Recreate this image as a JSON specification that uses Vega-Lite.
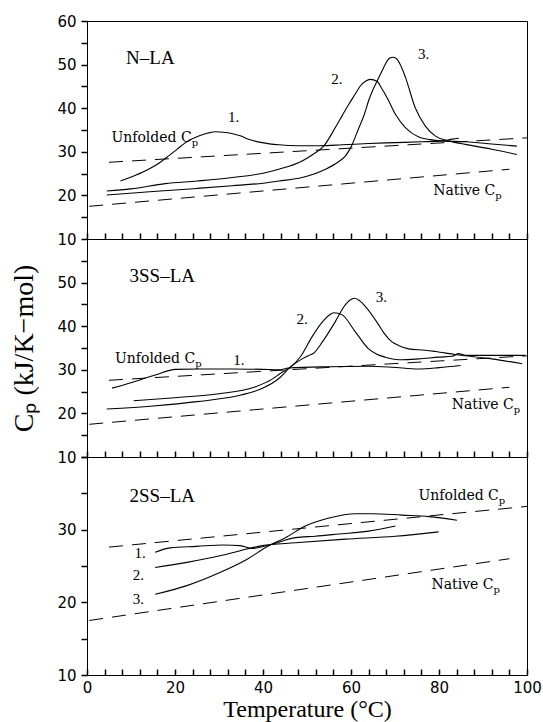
{
  "$schema": "https://vega.github.io/schema/vega-lite/v6.json",
  "background": "white",
  "padding": {"left": 10, "top": 13, "right": 5, "bottom": 0},
  "spacing": 0,
  "bounds": "flush",
  "config": {
    "view": {"stroke": "black", "strokeWidth": 1},
    "axis": {"grid": false, "ticks": true, "domainColor": "#000000", "tickColor": "#000000", "tickOpacity": 1, "tickWidth": 1.5, "labelColor": "#000000", "titleColor": "#000000", "labelFont": "DejaVu Sans", "labelFontSize": 15, "titleFont": "Liberation Serif", "titleFontWeight": "normal"}
  },
  "datasets": {
    "base": [
      {"kind": "unfolded", "x": 5, "y": 27.6},
      {"kind": "unfolded", "x": 100, "y": 33.2},
      {"kind": "native", "x": 0.5, "y": 17.5},
      {"kind": "native", "x": 96, "y": 26.0}
    ],
    "curves": [
      {"panel": "N", "series": "1", "x": 7.6, "y": 23.3},
      {"panel": "N", "series": "1", "x": 11, "y": 24.6},
      {"panel": "N", "series": "1", "x": 14, "y": 26.0},
      {"panel": "N", "series": "1", "x": 16.5, "y": 27.5},
      {"panel": "N", "series": "1", "x": 18.5, "y": 29.0},
      {"panel": "N", "series": "1", "x": 20.5, "y": 30.6},
      {"panel": "N", "series": "1", "x": 22.4, "y": 32.1},
      {"panel": "N", "series": "1", "x": 25.4, "y": 33.6},
      {"panel": "N", "series": "1", "x": 27.5, "y": 34.3},
      {"panel": "N", "series": "1", "x": 29.2, "y": 34.6},
      {"panel": "N", "series": "1", "x": 31, "y": 34.5},
      {"panel": "N", "series": "1", "x": 32.9, "y": 34.2},
      {"panel": "N", "series": "1", "x": 35, "y": 33.6},
      {"panel": "N", "series": "1", "x": 36.7, "y": 32.9},
      {"panel": "N", "series": "1", "x": 39.8, "y": 32.1},
      {"panel": "N", "series": "1", "x": 43.6, "y": 31.6},
      {"panel": "N", "series": "1", "x": 48, "y": 31.4},
      {"panel": "N", "series": "1", "x": 53, "y": 31.4},
      {"panel": "N", "series": "1", "x": 58, "y": 31.6},
      {"panel": "N", "series": "1", "x": 64, "y": 31.9},
      {"panel": "N", "series": "1", "x": 70, "y": 32.1},
      {"panel": "N", "series": "1", "x": 76, "y": 32.3},
      {"panel": "N", "series": "1", "x": 80.7, "y": 32.5},
      {"panel": "N", "series": "1", "x": 83, "y": 32.9},
      {"panel": "N", "series": "1", "x": 84.5, "y": 33.1},
      {"panel": "N", "series": "2", "x": 4.5, "y": 21.0},
      {"panel": "N", "series": "2", "x": 10, "y": 21.5},
      {"panel": "N", "series": "2", "x": 17.8, "y": 22.7},
      {"panel": "N", "series": "2", "x": 25, "y": 23.3},
      {"panel": "N", "series": "2", "x": 33, "y": 24.1},
      {"panel": "N", "series": "2", "x": 40, "y": 25.1},
      {"panel": "N", "series": "2", "x": 43.6, "y": 26.0},
      {"panel": "N", "series": "2", "x": 48.9, "y": 27.9},
      {"panel": "N", "series": "2", "x": 51.5, "y": 29.5},
      {"panel": "N", "series": "2", "x": 53.8, "y": 31.3},
      {"panel": "N", "series": "2", "x": 56.4, "y": 35.5},
      {"panel": "N", "series": "2", "x": 58, "y": 38.3},
      {"panel": "N", "series": "2", "x": 59.5, "y": 40.9},
      {"panel": "N", "series": "2", "x": 61, "y": 43.3},
      {"panel": "N", "series": "2", "x": 62.1, "y": 45.1},
      {"panel": "N", "series": "2", "x": 63.3, "y": 46.2},
      {"panel": "N", "series": "2", "x": 64.4, "y": 46.6},
      {"panel": "N", "series": "2", "x": 65.9, "y": 46.2},
      {"panel": "N", "series": "2", "x": 67, "y": 44.5},
      {"panel": "N", "series": "2", "x": 68.2, "y": 42.4},
      {"panel": "N", "series": "2", "x": 70.1, "y": 38.6},
      {"panel": "N", "series": "2", "x": 72.4, "y": 35.5},
      {"panel": "N", "series": "2", "x": 75.4, "y": 33.4},
      {"panel": "N", "series": "2", "x": 78, "y": 32.8},
      {"panel": "N", "series": "2", "x": 80.7, "y": 32.5},
      {"panel": "N", "series": "2", "x": 86, "y": 32.3},
      {"panel": "N", "series": "2", "x": 92, "y": 31.8},
      {"panel": "N", "series": "2", "x": 97.7, "y": 31.3},
      {"panel": "N", "series": "3", "x": 4.5, "y": 20.1},
      {"panel": "N", "series": "3", "x": 15, "y": 20.9},
      {"panel": "N", "series": "3", "x": 25, "y": 21.6},
      {"panel": "N", "series": "3", "x": 33, "y": 22.2},
      {"panel": "N", "series": "3", "x": 40, "y": 22.8},
      {"panel": "N", "series": "3", "x": 43.6, "y": 23.3},
      {"panel": "N", "series": "3", "x": 48.9, "y": 24.1},
      {"panel": "N", "series": "3", "x": 54.2, "y": 26.0},
      {"panel": "N", "series": "3", "x": 57, "y": 27.6},
      {"panel": "N", "series": "3", "x": 58.7, "y": 29.0},
      {"panel": "N", "series": "3", "x": 59.9, "y": 30.9},
      {"panel": "N", "series": "3", "x": 61.8, "y": 35.5},
      {"panel": "N", "series": "3", "x": 63, "y": 38.5},
      {"panel": "N", "series": "3", "x": 64, "y": 41.7},
      {"panel": "N", "series": "3", "x": 66.3, "y": 47.0},
      {"panel": "N", "series": "3", "x": 67.4, "y": 49.3},
      {"panel": "N", "series": "3", "x": 68.2, "y": 50.8},
      {"panel": "N", "series": "3", "x": 68.8, "y": 51.5},
      {"panel": "N", "series": "3", "x": 69.5, "y": 51.7},
      {"panel": "N", "series": "3", "x": 70.3, "y": 51.4},
      {"panel": "N", "series": "3", "x": 71.3, "y": 49.8},
      {"panel": "N", "series": "3", "x": 72.4, "y": 47.0},
      {"panel": "N", "series": "3", "x": 74.6, "y": 40.1},
      {"panel": "N", "series": "3", "x": 76.9, "y": 35.9},
      {"panel": "N", "series": "3", "x": 79.2, "y": 33.6},
      {"panel": "N", "series": "3", "x": 82.2, "y": 32.5},
      {"panel": "N", "series": "3", "x": 86, "y": 31.7},
      {"panel": "N", "series": "3", "x": 92, "y": 30.6},
      {"panel": "N", "series": "3", "x": 97.7, "y": 29.4},

      {"panel": "3SS", "series": "1", "x": 5.7, "y": 25.8},
      {"panel": "3SS", "series": "1", "x": 10.2, "y": 27.1},
      {"panel": "3SS", "series": "1", "x": 15.5, "y": 28.8},
      {"panel": "3SS", "series": "1", "x": 20.1, "y": 30.1},
      {"panel": "3SS", "series": "1", "x": 25.4, "y": 30.2},
      {"panel": "3SS", "series": "1", "x": 33, "y": 30.2},
      {"panel": "3SS", "series": "1", "x": 40, "y": 30.1},
      {"panel": "3SS", "series": "1", "x": 43.6, "y": 30.0},
      {"panel": "3SS", "series": "1", "x": 45.8, "y": 30.4},
      {"panel": "3SS", "series": "1", "x": 55, "y": 30.7},
      {"panel": "3SS", "series": "1", "x": 64, "y": 30.8},
      {"panel": "3SS", "series": "1", "x": 69.3, "y": 30.6},
      {"panel": "3SS", "series": "1", "x": 75.4, "y": 30.2},
      {"panel": "3SS", "series": "1", "x": 80, "y": 30.5},
      {"panel": "3SS", "series": "1", "x": 84.9, "y": 31.0},
      {"panel": "3SS", "series": "2", "x": 10.6, "y": 22.9},
      {"panel": "3SS", "series": "2", "x": 20, "y": 23.6},
      {"panel": "3SS", "series": "2", "x": 30, "y": 24.5},
      {"panel": "3SS", "series": "2", "x": 38, "y": 26.0},
      {"panel": "3SS", "series": "2", "x": 42, "y": 27.8},
      {"panel": "3SS", "series": "2", "x": 44, "y": 29.2},
      {"panel": "3SS", "series": "2", "x": 46.2, "y": 30.6},
      {"panel": "3SS", "series": "2", "x": 48.5, "y": 33.0},
      {"panel": "3SS", "series": "2", "x": 51.1, "y": 37.5},
      {"panel": "3SS", "series": "2", "x": 53.5, "y": 41.0},
      {"panel": "3SS", "series": "2", "x": 55, "y": 42.5},
      {"panel": "3SS", "series": "2", "x": 56.1, "y": 43.1},
      {"panel": "3SS", "series": "2", "x": 58, "y": 42.6},
      {"panel": "3SS", "series": "2", "x": 61, "y": 38.7},
      {"panel": "3SS", "series": "2", "x": 64, "y": 34.8},
      {"panel": "3SS", "series": "2", "x": 66, "y": 33.5},
      {"panel": "3SS", "series": "2", "x": 67.8, "y": 32.9},
      {"panel": "3SS", "series": "2", "x": 71.6, "y": 32.3},
      {"panel": "3SS", "series": "2", "x": 75.4, "y": 32.5},
      {"panel": "3SS", "series": "2", "x": 80, "y": 32.9},
      {"panel": "3SS", "series": "2", "x": 83, "y": 33.1},
      {"panel": "3SS", "series": "2", "x": 84.5, "y": 33.7},
      {"panel": "3SS", "series": "2", "x": 86, "y": 33.3},
      {"panel": "3SS", "series": "2", "x": 92, "y": 33.3},
      {"panel": "3SS", "series": "2", "x": 99.6, "y": 33.3},
      {"panel": "3SS", "series": "3", "x": 4.5, "y": 21.0},
      {"panel": "3SS", "series": "3", "x": 15, "y": 21.7},
      {"panel": "3SS", "series": "3", "x": 25, "y": 22.7},
      {"panel": "3SS", "series": "3", "x": 35, "y": 24.2},
      {"panel": "3SS", "series": "3", "x": 40, "y": 25.8},
      {"panel": "3SS", "series": "3", "x": 43.6, "y": 28.0},
      {"panel": "3SS", "series": "3", "x": 46.2, "y": 30.6},
      {"panel": "3SS", "series": "3", "x": 48.9, "y": 32.5},
      {"panel": "3SS", "series": "3", "x": 50.4, "y": 33.3},
      {"panel": "3SS", "series": "3", "x": 51.5, "y": 33.8},
      {"panel": "3SS", "series": "3", "x": 53.5, "y": 36.4},
      {"panel": "3SS", "series": "3", "x": 56.4, "y": 41.0},
      {"panel": "3SS", "series": "3", "x": 58.7, "y": 44.9},
      {"panel": "3SS", "series": "3", "x": 59.8, "y": 46.0},
      {"panel": "3SS", "series": "3", "x": 60.8, "y": 46.4},
      {"panel": "3SS", "series": "3", "x": 62, "y": 45.8},
      {"panel": "3SS", "series": "3", "x": 63.3, "y": 44.5},
      {"panel": "3SS", "series": "3", "x": 66.3, "y": 40.3},
      {"panel": "3SS", "series": "3", "x": 67.5, "y": 38.4},
      {"panel": "3SS", "series": "3", "x": 69.3, "y": 36.4},
      {"panel": "3SS", "series": "3", "x": 70.8, "y": 35.6},
      {"panel": "3SS", "series": "3", "x": 73.1, "y": 34.8},
      {"panel": "3SS", "series": "3", "x": 76.9, "y": 34.5},
      {"panel": "3SS", "series": "3", "x": 79.2, "y": 34.2},
      {"panel": "3SS", "series": "3", "x": 83.7, "y": 33.5},
      {"panel": "3SS", "series": "3", "x": 92, "y": 32.5},
      {"panel": "3SS", "series": "3", "x": 98.9, "y": 31.4},

      {"panel": "2SS", "series": "1", "x": 15.5, "y": 26.9},
      {"panel": "2SS", "series": "1", "x": 18.9, "y": 27.5},
      {"panel": "2SS", "series": "1", "x": 24.9, "y": 27.7},
      {"panel": "2SS", "series": "1", "x": 31, "y": 27.9},
      {"panel": "2SS", "series": "1", "x": 34.8, "y": 27.8},
      {"panel": "2SS", "series": "1", "x": 37.5, "y": 27.4},
      {"panel": "2SS", "series": "1", "x": 42, "y": 28.0},
      {"panel": "2SS", "series": "1", "x": 47.4, "y": 28.9},
      {"panel": "2SS", "series": "1", "x": 51.9, "y": 29.1},
      {"panel": "2SS", "series": "1", "x": 57.2, "y": 29.4},
      {"panel": "2SS", "series": "1", "x": 64, "y": 29.8},
      {"panel": "2SS", "series": "1", "x": 70.1, "y": 30.5},
      {"panel": "2SS", "series": "2", "x": 15.5, "y": 24.8},
      {"panel": "2SS", "series": "2", "x": 22.7, "y": 25.5},
      {"panel": "2SS", "series": "2", "x": 30.2, "y": 26.4},
      {"panel": "2SS", "series": "2", "x": 34.8, "y": 27.1},
      {"panel": "2SS", "series": "2", "x": 39.8, "y": 27.8},
      {"panel": "2SS", "series": "2", "x": 47.4, "y": 28.2},
      {"panel": "2SS", "series": "2", "x": 58.7, "y": 28.7},
      {"panel": "2SS", "series": "2", "x": 70.1, "y": 29.1},
      {"panel": "2SS", "series": "2", "x": 79.9, "y": 29.7},
      {"panel": "2SS", "series": "3", "x": 15.5, "y": 21.1},
      {"panel": "2SS", "series": "3", "x": 22.7, "y": 22.3},
      {"panel": "2SS", "series": "3", "x": 30.2, "y": 24.1},
      {"panel": "2SS", "series": "3", "x": 36.3, "y": 25.9},
      {"panel": "2SS", "series": "3", "x": 41.3, "y": 27.8},
      {"panel": "2SS", "series": "3", "x": 45.1, "y": 28.9},
      {"panel": "2SS", "series": "3", "x": 49.6, "y": 30.5},
      {"panel": "2SS", "series": "3", "x": 55, "y": 31.6},
      {"panel": "2SS", "series": "3", "x": 61, "y": 32.2},
      {"panel": "2SS", "series": "3", "x": 64.8, "y": 32.2},
      {"panel": "2SS", "series": "3", "x": 71.6, "y": 32.0},
      {"panel": "2SS", "series": "3", "x": 77.7, "y": 31.8},
      {"panel": "2SS", "series": "3", "x": 84.1, "y": 31.3}
    ],
    "labels": [
      {"panel": "N", "kind": "title", "x": 14.4, "y": 51.4, "text": "N–LA"},
      {"panel": "N", "kind": "num", "x": 33.3, "y": 38.0, "text": "1."},
      {"panel": "N", "kind": "num", "x": 56.8, "y": 46.6, "text": "2."},
      {"panel": "N", "kind": "num", "x": 76.5, "y": 52.4, "text": "3."},
      {"panel": "N", "kind": "cp", "x": 23.8, "y": 33.2, "text": "Unfolded  C"},
      {"panel": "N", "kind": "cp", "x": 92.8, "y": 21.0, "text": "Native  C"},
      {"panel": "3SS", "kind": "title", "x": 17.1, "y": 51.4, "text": "3SS–LA"},
      {"panel": "3SS", "kind": "num", "x": 34.5, "y": 32.2, "text": "1."},
      {"panel": "3SS", "kind": "num", "x": 48.9, "y": 41.6, "text": "2."},
      {"panel": "3SS", "kind": "num", "x": 66.9, "y": 46.8, "text": "3."},
      {"panel": "3SS", "kind": "cp", "x": 24.6, "y": 32.4, "text": "Unfolded  C"},
      {"panel": "3SS", "kind": "cp", "x": 97.0, "y": 21.9, "text": "Native  C"},
      {"panel": "2SS", "kind": "title", "x": 17.1, "y": 34.6, "text": "2SS–LA"},
      {"panel": "2SS", "kind": "num", "x": 12.1, "y": 26.8, "text": "1."},
      {"panel": "2SS", "kind": "num", "x": 11.7, "y": 23.7, "text": "2."},
      {"panel": "2SS", "kind": "num", "x": 11.7, "y": 20.5, "text": "3."},
      {"panel": "2SS", "kind": "cp", "x": 93.6, "y": 34.6, "text": "Unfolded  C"},
      {"panel": "2SS", "kind": "cp", "x": 92.4, "y": 22.4, "text": "Native  C"}
    ]
  },
  "vconcat": [
    {
      "width": 440, "height": 218,
      "encoding": {
        "x": {"field": "x", "type": "quantitative", "scale": {"domain": [0, 100], "nice": false},
          "axis": {"title": null, "labels": false, "domain": false, "offset": -6, "values": [0,4,8,12,16,20,24,28,32,36,40,44,48,52,56,60,64,68,72,76,80,84,88,92,96,100], "tickSize": 6}},
        "y": {"field": "y", "type": "quantitative", "scale": {"domain": [10, 60], "nice": false, "zero": false},
          "axis": {"title": null, "values": [10,15,20,25,30,35,40,45,50,55,60], "labelExpr": "datum.value % 10 === 0 ? datum.label : ''", "tickSize": 6, "labelPadding": 5}}
      },
      "layer": [
        {"data": {"name": "base"}, "mark": {"type": "line", "color": "black", "strokeWidth": 1, "strokeDash": [14, 9]}, "encoding": {"detail": {"field": "kind"}}},
        {"data": {"name": "curves"}, "transform": [{"filter": "datum.panel === 'N'"}], "mark": {"type": "line", "color": "black", "strokeWidth": 1.1, "interpolate": "monotone"}, "encoding": {"detail": {"field": "series"}}},
        {"data": {"name": "labels"}, "transform": [{"filter": "datum.panel === 'N' && datum.kind === 'title'"}], "mark": {"type": "text", "font": "Liberation Serif", "fontSize": 19, "color": "black"}, "encoding": {"text": {"field": "text"}}},
        {"data": {"name": "labels"}, "transform": [{"filter": "datum.panel === 'N' && datum.kind === 'num'"}], "mark": {"type": "text", "font": "Liberation Serif", "fontSize": 15, "color": "black"}, "encoding": {"text": {"field": "text"}}},
        {"data": {"name": "labels"}, "transform": [{"filter": "datum.panel === 'N' && datum.kind === 'cp'"}], "mark": {"type": "text", "font": "DejaVu Serif", "fontSize": 14, "align": "right", "color": "black"}, "encoding": {"text": {"field": "text"}}},
        {"data": {"name": "labels"}, "transform": [{"filter": "datum.panel === 'N' && datum.kind === 'cp'"}], "mark": {"type": "text", "font": "DejaVu Serif", "fontSize": 10, "align": "left", "dx": 0, "dy": 5, "color": "black", "text": "p"}, "encoding": {}}
      ]
    },
    {
      "width": 440, "height": 218,
      "encoding": {
        "x": {"field": "x", "type": "quantitative", "scale": {"domain": [0, 100], "nice": false},
          "axis": {"title": null, "labels": false, "domain": false, "offset": -6, "values": [0,4,8,12,16,20,24,28,32,36,40,44,48,52,56,60,64,68,72,76,80,84,88,92,96,100], "tickSize": 6}},
        "y": {"field": "y", "type": "quantitative", "scale": {"domain": [10, 60], "nice": false, "zero": false},
          "axis": {"title": "Cₚ  (kJ/K−mol)", "titleFontSize": 28, "titlePadding": 18, "values": [10,15,20,25,30,35,40,45,50,55], "labelExpr": "datum.value % 10 === 0 ? datum.label : ''", "tickSize": 6, "labelPadding": 5}}
      },
      "layer": [
        {"data": {"name": "base"}, "mark": {"type": "line", "color": "black", "strokeWidth": 1, "strokeDash": [14, 9]}, "encoding": {"detail": {"field": "kind"}}},
        {"data": {"name": "curves"}, "transform": [{"filter": "datum.panel === '3SS'"}], "mark": {"type": "line", "color": "black", "strokeWidth": 1.1, "interpolate": "monotone"}, "encoding": {"detail": {"field": "series"}}},
        {"data": {"name": "labels"}, "transform": [{"filter": "datum.panel === '3SS' && datum.kind === 'title'"}], "mark": {"type": "text", "font": "Liberation Serif", "fontSize": 19, "color": "black"}, "encoding": {"text": {"field": "text"}}},
        {"data": {"name": "labels"}, "transform": [{"filter": "datum.panel === '3SS' && datum.kind === 'num'"}], "mark": {"type": "text", "font": "Liberation Serif", "fontSize": 15, "color": "black"}, "encoding": {"text": {"field": "text"}}},
        {"data": {"name": "labels"}, "transform": [{"filter": "datum.panel === '3SS' && datum.kind === 'cp'"}], "mark": {"type": "text", "font": "DejaVu Serif", "fontSize": 14, "align": "right", "color": "black"}, "encoding": {"text": {"field": "text"}}},
        {"data": {"name": "labels"}, "transform": [{"filter": "datum.panel === '3SS' && datum.kind === 'cp'"}], "mark": {"type": "text", "font": "DejaVu Serif", "fontSize": 10, "align": "left", "dx": 0, "dy": 5, "color": "black", "text": "p"}, "encoding": {}}
      ]
    },
    {
      "width": 440, "height": 218,
      "encoding": {
        "x": {"field": "x", "type": "quantitative", "scale": {"domain": [0, 100], "nice": false},
          "axis": {"title": "Temperature (°C)", "titleFontSize": 24, "titlePadding": 2, "domain": false, "offset": -6, "values": [0,4,8,12,16,20,24,28,32,36,40,44,48,52,56,60,64,68,72,76,80,84,88,92,96,100], "labelExpr": "datum.value % 20 === 0 ? datum.label : ''", "labelPadding": 5, "labelFlush": false, "tickSize": 6}},
        "y": {"field": "y", "type": "quantitative", "scale": {"domain": [10, 40], "nice": false, "zero": false},
          "axis": {"title": null, "values": [10,15,20,25,30,35,40], "labelExpr": "datum.value % 10 === 0 && datum.value < 40 ? datum.label : ''", "tickSize": 6, "labelPadding": 5}}
      },
      "layer": [
        {"data": {"name": "base"}, "mark": {"type": "line", "color": "black", "strokeWidth": 1, "strokeDash": [14, 9]}, "encoding": {"detail": {"field": "kind"}}},
        {"data": {"name": "curves"}, "transform": [{"filter": "datum.panel === '2SS'"}], "mark": {"type": "line", "color": "black", "strokeWidth": 1.1, "interpolate": "monotone"}, "encoding": {"detail": {"field": "series"}}},
        {"data": {"name": "labels"}, "transform": [{"filter": "datum.panel === '2SS' && datum.kind === 'title'"}], "mark": {"type": "text", "font": "Liberation Serif", "fontSize": 19, "color": "black"}, "encoding": {"text": {"field": "text"}}},
        {"data": {"name": "labels"}, "transform": [{"filter": "datum.panel === '2SS' && datum.kind === 'num'"}], "mark": {"type": "text", "font": "Liberation Serif", "fontSize": 15, "color": "black"}, "encoding": {"text": {"field": "text"}}},
        {"data": {"name": "labels"}, "transform": [{"filter": "datum.panel === '2SS' && datum.kind === 'cp'"}], "mark": {"type": "text", "font": "DejaVu Serif", "fontSize": 14, "align": "right", "color": "black"}, "encoding": {"text": {"field": "text"}}},
        {"data": {"name": "labels"}, "transform": [{"filter": "datum.panel === '2SS' && datum.kind === 'cp'"}], "mark": {"type": "text", "font": "DejaVu Serif", "fontSize": 10, "align": "left", "dx": 0, "dy": 5, "color": "black", "text": "p"}, "encoding": {}}
      ]
    }
  ]
}
